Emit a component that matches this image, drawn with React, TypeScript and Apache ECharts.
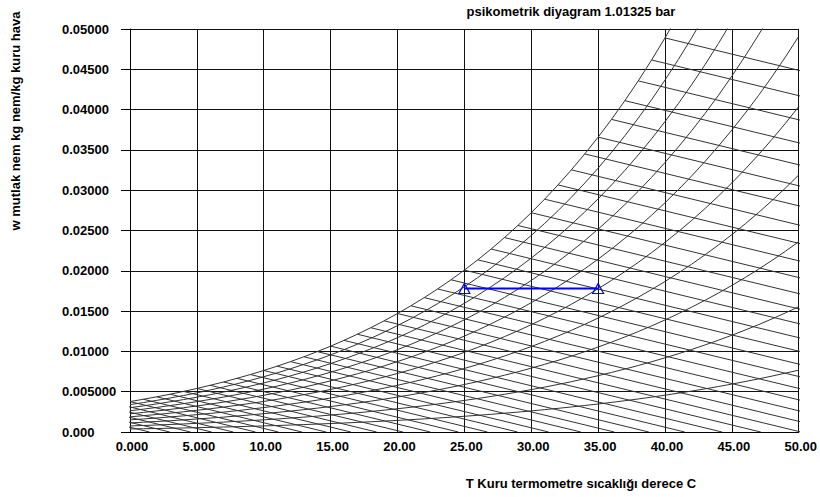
import React, { useEffect, useRef } from "react";
import * as echarts from "echarts";

// ---- data ----
const pressureBar = 1.01325;
const dryBulbC = [-5, -4, -3, -2, -1, 0, 1, 2, 3, 4, 5, 6, 7, 8, 9, 10, 11, 12, 13, 14, 15, 16, 17, 18, 19, 20, 21, 22, 23, 24, 25, 26, 27, 28, 29, 30, 31, 32, 33, 34, 35, 36, 37, 38, 39, 40, 41, 42, 43, 44, 45, 46, 47, 48, 49, 50];
const satPressureKPa = [0.4217, 0.4547, 0.49, 0.5277, 0.568, 0.6112, 0.6571, 0.706, 0.7581, 0.8135, 0.8726, 0.9354, 1.0021, 1.073, 1.1483, 1.2282, 1.3129, 1.4028, 1.4981, 1.5989, 1.7057, 1.8188, 1.9383, 2.0647, 2.1982, 2.3392, 2.4881, 2.6452, 2.8109, 2.9856, 3.1697, 3.3637, 3.5679, 3.7828, 4.0089, 4.2467, 4.4966, 4.7592, 5.0351, 5.3247, 5.6286, 5.9475, 6.2818, 6.6324, 6.9997, 7.3844, 7.7873, 8.209, 8.6503, 9.1118, 9.5944, 10.099, 10.626, 11.177, 11.752, 12.352];
const relHumidityPct = [10, 20, 30, 40, 50, 60, 70, 80, 90, 100];
const wetBulbC = [-5, -4, -3, -2, -1, 0, 1, 2, 3, 4, 5, 6, 7, 8, 9, 10, 11, 12, 13, 14, 15, 16, 17, 18, 19, 20, 21, 22, 23, 24, 25, 26, 27, 28, 29, 30, 31, 32, 33, 34, 35, 36, 37, 38, 39, 40];
const processT = [25, 35];
const processW = [0.0178, 0.0178];
const xTickLabels = ["0.000", "5.000", "10.00", "15.00", "20.00", "25.00", "30.00", "35.00", "40.00", "45.00", "50.00"];
const yTickLabels = ["0.000", "0.005000", "0.01000", "0.01500", "0.02000", "0.02500", "0.03000", "0.03500", "0.04000", "0.04500", "0.05000"];

const FONT = "'Liberation Sans', Arial, Helvetica, sans-serif";

function buildOption() {
  const patm = pressureBar * 100; // kPa
  const humRatio = (pv: number) => (0.622 * pv) / (patm - pv);
  const series: any[] = [];
  const lineStyle = { color: "#333", width: 1 };

  relHumidityPct.forEach((rh) => {
    const data: number[][] = [];
    dryBulbC.forEach((t, i) => {
      if (t >= 0) data.push([t, humRatio((rh / 100) * satPressureKPa[i])]);
    });
    series.push({
      type: "line",
      name: "RH " + rh,
      data,
      symbol: "none",
      silent: true,
      clip: true,
      lineStyle,
    });
  });

  wetBulbC.forEach((twb) => {
    const i = dryBulbC.indexOf(twb);
    const ws = humRatio(satPressureKPa[i]);
    const tZero = twb + (ws * 2501) / 1.006;
    series.push({
      type: "line",
      name: "Twb " + twb,
      data: [
        [twb, ws],
        [tZero, 0],
      ],
      symbol: "none",
      silent: true,
      clip: true,
      lineStyle,
    });
  });

  series.push({
    type: "line",
    name: "process",
    data: processT.map((t, i) => [t, processW[i]]),
    symbol: "triangle",
    symbolSize: [11, 10],
    itemStyle: { color: "rgba(0,0,0,0)", borderColor: "#0000ff", borderWidth: 1.2 },
    lineStyle: { color: "#0000ff", width: 2 },
    silent: true,
    z: 10,
  });

  const textStyle = { fontFamily: FONT, fontWeight: "bold", fontSize: 13, fill: "#000" };

  return {
    animation: false,
    backgroundColor: "#fff",
    grid: { left: 130, right: 17, top: 29, bottom: 65 },
    xAxis: {
      type: "value",
      min: 0,
      max: 50,
      interval: 5,
      axisLine: { show: true, onZero: false, lineStyle: { color: "#000", width: 1 } },
      axisTick: { show: false },
      splitLine: { show: true, lineStyle: { color: "#111", width: 1 } },
      axisLabel: {
        margin: 8,
        color: "#000",
        fontFamily: FONT,
        fontWeight: "bold",
        fontSize: 13,
        padding: [0, 0, 0, 4],
        formatter: (v: number) => xTickLabels[Math.round(v / 5)] ?? "",
      },
    },
    yAxis: {
      type: "value",
      min: 0,
      max: 0.05,
      interval: 0.005,
      axisLine: { show: true, onZero: false, lineStyle: { color: "#000", width: 1 } },
      axisTick: { show: true, length: 9, inside: false, lineStyle: { color: "#000", width: 1 } },
      splitLine: { show: true, lineStyle: { color: "#111", width: 1 } },
      axisLabel: {
        margin: 68,
        align: "left",
        color: "#000",
        fontFamily: FONT,
        fontWeight: "bold",
        fontSize: 13,
        formatter: (v: number) => yTickLabels[Math.round(v / 0.005)] ?? "",
      },
    },
    graphic: [
      {
        type: "text",
        x: 571,
        y: 11,
        style: { ...textStyle, text: "psikometrik diyagram 1.01325 bar", align: "center", verticalAlign: "middle" },
      },
      {
        type: "text",
        x: 581,
        y: 483,
        style: { ...textStyle, text: "T Kuru termometre sıcaklığı derece C", align: "center", verticalAlign: "middle" },
      },
      {
        type: "text",
        x: 15,
        y: 121,
        rotation: Math.PI / 2,
        style: { ...textStyle, text: "w mutlak nem kg nem/kg kuru hava", align: "center", verticalAlign: "middle" },
      },
    ],
    series,
  };
}

export default function App() {
  const ref = useRef<HTMLDivElement>(null);
  useEffect(() => {
    if (!ref.current) return;
    const chart = echarts.init(ref.current, null, { renderer: "svg" });
    chart.setOption(buildOption() as any);
    return () => chart.dispose();
  }, []);
  return (
    <div
      ref={ref}
      style={{ position: "fixed", left: 0, top: 0, width: 820, height: 497, background: "#fff" }}
    />
  );
}
